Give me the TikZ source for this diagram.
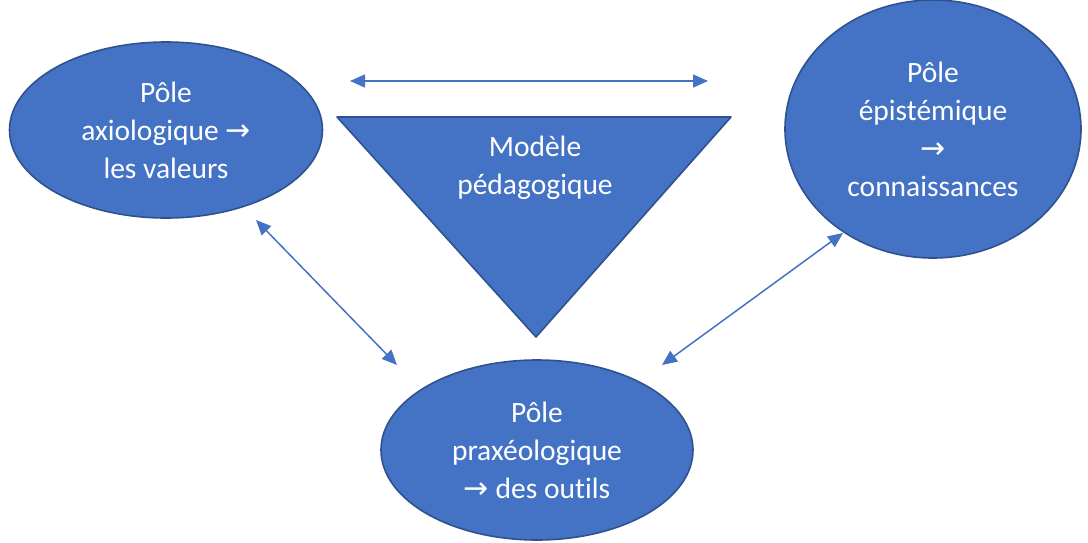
\documentclass[tikz,border=0pt]{standalone}
\usepackage{fontspec}
\setmainfont{Carlito}[Ligatures=NoCommon]
\newfontfamily\arrowfont{DejaVu Sans}
\usetikzlibrary{shapes.geometric, arrows.meta}
\definecolor{poleblue}{HTML}{4472C4}
\definecolor{poleline}{HTML}{2F528F}
\newcommand{\ra}{{\arrowfont\fontsize{30}{38}\selectfont →}}

\begin{document}
\begin{tikzpicture}[x=1pt,y=-1pt,>={Triangle[length=15pt,width=13pt]},line width=1.5pt,
    pole/.style={draw=poleline, fill=poleblue, ellipse, line width=1.6pt, text=white,
      align=center, font=\fontsize{29.5}{38}\selectfont, inner sep=0pt},
    link/.style={<->, draw=poleblue}]
          \useasboundingbox (0,0) rectangle (1088,542);

          \node [pole, minimum width=313pt, minimum height=176pt] (axio) at (166, 130)
            {Pôle\\axiologique \ra\\les valeurs};
          \node [pole, minimum width=296pt, minimum height=258pt] (episte) at (933, 129)
            {Pôle\\épistémique\\\ra\\connaissances};
          \node [pole, minimum width=312pt, minimum height=180pt] (praxe) at (537, 450)
            {Pôle\\praxéologique\\\ra{} des outils};

          % triangle du modele
          \coordinate (tl) at (337, 117);
          \coordinate (tr) at (731, 117);
          \coordinate (tb) at (536, 337);
          \draw [draw=poleline, fill=poleblue, line width=1.6pt, line join=round] (tl) -- (tr) -- (tb) -- cycle;
          \node [text=white, align=center, font=\fontsize{29.5}{38}\selectfont] (modele) at (535, 168)
            {Modèle\\pédagogique};

          % fleches
          \coordinate (h1) at (350, 81);
          \coordinate (h2) at (708, 81);
          \coordinate (a1) at (256, 220);
          \coordinate (a2) at (397, 365);
          \coordinate (e1) at (843, 233);
          \coordinate (e2) at (662, 365);

          \draw [link] (h1) -- (h2);
          \draw [link] (a1) -- (a2);
          \draw [link] (e1) -- (e2);

      \end{tikzpicture}
\end{document}
